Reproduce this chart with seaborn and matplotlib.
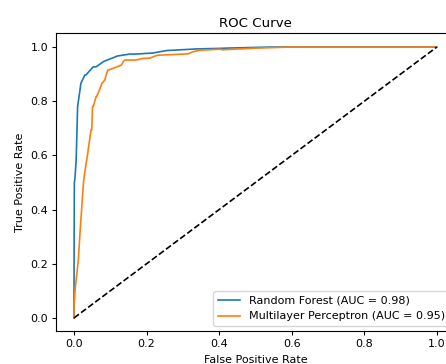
import matplotlib
matplotlib.use("Agg")
import matplotlib.pyplot as plt
import numpy as np
import pandas as pd
import seaborn as sns

# ROC points
rf_fpr = [0.0, 0.0, 0.0005, 0.001, 0.003, 0.006, 0.010, 0.0165, 0.019, 0.030, 0.033,
          0.053, 0.061, 0.081, 0.088, 0.120, 0.154, 0.171, 0.218, 0.255, 0.283,
          0.338, 0.402, 0.42, 0.512, 0.55, 1.0]
rf_tpr = [0.0, 0.06, 0.31, 0.497, 0.521, 0.583, 0.78, 0.841, 0.866, 0.897, 0.897,
          0.927, 0.927, 0.946, 0.95, 0.967, 0.974, 0.974, 0.978, 0.987, 0.989,
          0.993, 0.995, 0.996, 0.999, 1.0, 1.0]

mlp_fpr = [0.0, 0.0, 0.003, 0.012, 0.0165, 0.026, 0.028, 0.035, 0.038, 0.039, 0.047,
           0.049, 0.051, 0.053, 0.061, 0.0625, 0.070, 0.077, 0.085, 0.086, 0.093,
           0.095, 0.125, 0.131, 0.136, 0.140, 0.154, 0.170, 0.191, 0.209, 0.228,
           0.237, 0.315, 0.329, 0.347, 0.402, 0.41, 0.503, 0.6, 1.0]
mlp_tpr = [0.0, 0.04, 0.103, 0.214, 0.3125, 0.497, 0.521, 0.583, 0.608, 0.62, 0.694,
           0.694, 0.78, 0.78, 0.817, 0.817, 0.841, 0.866, 0.878, 0.884, 0.915,
           0.915, 0.930, 0.934, 0.946, 0.952, 0.952, 0.952, 0.958, 0.959, 0.969,
           0.970, 0.975, 0.983, 0.988, 0.992, 0.99, 0.996, 1.0, 1.0]

rf_label = "Random Forest (AUC = 0.98)"
mlp_label = "Multilayer Perceptron (AUC = 0.95)"
chance = [0.0, 1.0]

# the reference is a scaled-down default figure, so shrink everything by ~0.8
plt.rcParams.update({
    "font.size": 8,
    "axes.titlesize": 9.6,
    "axes.labelsize": 8,
    "xtick.labelsize": 8,
    "ytick.labelsize": 8,
    "legend.fontsize": 8,
    "xtick.major.size": 2.8,
    "ytick.major.size": 2.8,
    "xtick.major.pad": 2.8,
    "ytick.major.pad": 2.8,
    "axes.linewidth": 0.8,
    "lines.linewidth": 1.2,
})

fig = plt.figure(figsize=(4.46, 3.64), dpi=100)
ax = fig.add_axes([0.1252, 0.0893, 0.895, 0.8187])

sns.lineplot(x=rf_fpr, y=rf_tpr, ax=ax, color="tab:blue", label=rf_label,
             estimator=None, sort=False, linewidth=1.2)
sns.lineplot(x=mlp_fpr, y=mlp_tpr, ax=ax, color="tab:orange", label=mlp_label,
             estimator=None, sort=False, linewidth=1.2)
sns.lineplot(x=chance, y=chance, ax=ax, color="black", linestyle="--",
             estimator=None, sort=False, linewidth=1.2)

ax.set_xlabel("False Positive Rate")
ax.set_ylabel("True Positive Rate")
ax.set_title("ROC Curve", pad=4.8)
ax.legend(loc="lower right")

fig.savefig("out.png", dpi=100)
plt.close(fig)
